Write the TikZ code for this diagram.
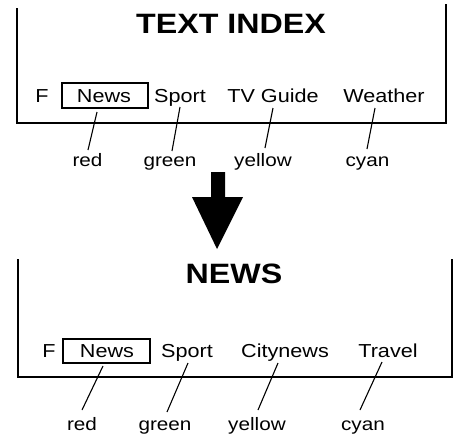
\documentclass[tikz,border=0pt]{standalone}
\usepackage{fontspec}
\setmainfont{Liberation Sans}[FakeStretch=1.15]
\begin{document}
\begin{tikzpicture}[x=1pt,y=-1pt,
  panel/.style={line width=2.4pt, line cap=rect},
  menu/.style={anchor=base, inner sep=0pt, font=\fontsize{18.8}{20}\selectfont},
  keylab/.style={anchor=base, inner sep=0pt, font=\fontsize{18}{20}\selectfont},
  title/.style={anchor=base, inner sep=0pt, font=\fontsize{28}{30}\selectfont\bfseries},
  selbox/.style={draw, line width=1.2pt},
  link/.style={line width=1.1pt}]
\useasboundingbox (0,0) rectangle (455,437);
% ---------- top panel ----------
\coordinate (tl) at (17,9);
\coordinate (tbl) at (17,123);
\coordinate (tbr) at (446,123);
\coordinate (tr) at (446,5);
\draw[panel] (tl) -- (tbl) -- (tbr) -- (tr);
\node[title] (t1) at (231,33) {TEXT INDEX};
\node[menu] (f1) at (42,102) {F};
\node[selbox, minimum width=86pt, minimum height=25pt] (b1) at (105,95.5) {};
\node[menu] (m1) at (104,102) {News};
\node[menu] (m2) at (180,102) {Sport};
\node[menu] (m3) at (273,102) {TV Guide};
\node[menu] (m4) at (384,102) {Weather};
\node[keylab] (k1) at (87.5,166) {red};
\node[keylab] (k2) at (170,166) {green};
\node[keylab] (k3) at (263,166) {yellow};
\node[keylab] (k4) at (367.5,166) {cyan};
\coordinate (a1) at (97,112);  \coordinate (c1) at (88,150);
\coordinate (a2) at (180,107); \coordinate (c2) at (172,151);
\coordinate (a3) at (273,108); \coordinate (c3) at (265,148);
\coordinate (a4) at (375,108); \coordinate (c4) at (367,149);
\foreach \i in {1,2,3,4} \draw[link] (a\i) -- (c\i);
% ---------- arrow ----------
\fill (211,172) -- (225,172) -- (225,197) -- (243,197) -- (217,249) -- (192,197) -- (211,197) -- cycle;
% ---------- bottom panel ----------
\coordinate (bl) at (18,260);
\coordinate (bbl) at (18,377);
\coordinate (bbr) at (452,377);
\coordinate (br) at (452,260);
\draw[panel] (bl) -- (bbl) -- (bbr) -- (br);
\node[title] (t2) at (234,283) {NEWS};
\node[menu] (f2) at (49,357) {F};
\node[selbox, minimum width=87pt, minimum height=24pt] (b2) at (106.5,351) {};
\node[menu] (n1) at (107,357) {News};
\node[menu] (n2) at (187,357) {Sport};
\node[menu] (n3) at (285,357) {Citynews};
\node[menu] (n4) at (388,357) {Travel};
\node[keylab] (q1) at (82,430) {red};
\node[keylab] (q2) at (165,430) {green};
\node[keylab] (q3) at (257,430) {yellow};
\node[keylab] (q4) at (363,430) {cyan};
\coordinate (d1) at (103,366); \coordinate (e1) at (82,410);
\coordinate (d2) at (188,363); \coordinate (e2) at (167,412);
\coordinate (d3) at (278,363); \coordinate (e3) at (258,410);
\coordinate (d4) at (382,362); \coordinate (e4) at (360,410);
\foreach \i in {1,2,3,4} \draw[link] (d\i) -- (e\i);
\end{tikzpicture}
\end{document}
